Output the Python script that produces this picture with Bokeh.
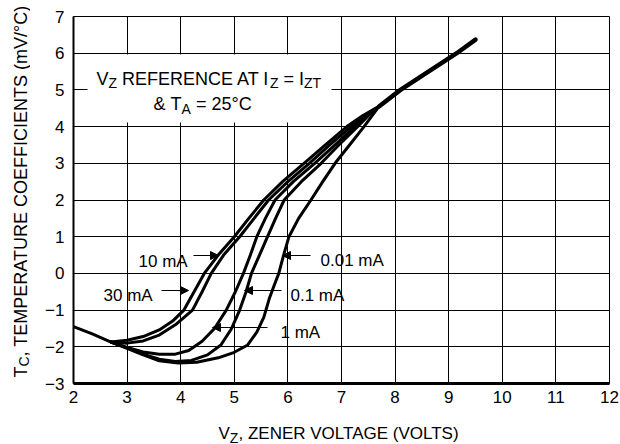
import numpy as np
from bokeh.plotting import figure
from bokeh.layouts import column, row
from bokeh.models import Range1d, FixedTicker, Label, Arrow, NormalHead, BoxAnnotation
from bokeh.core.properties import value
from bokeh.embed import file_html
from bokeh.resources import INLINE

# ---------------- data ----------------
x_ticks = list(range(2, 13))
y_ticks = list(range(-3, 8))
x_tick_labels = [str(v) for v in x_ticks]
y_tick_labels = ["\u22123", "\u22122", "\u22121", "0", "1", "2", "3", "4", "5", "6", "7"]

currents = ["30 mA", "10 mA", "1 mA", "0.1 mA", "0.01 mA"]

# shared start (all currents) and shared end (all currents merge)
common_vz = [2.0, 2.35, 2.7]
common_tc = [-1.45, -1.65, -1.87]
tail_vz = [7.7, 8.1, 9.15, 9.5]
tail_tc = [4.55, 5.0, 6.0, 6.37]

vz_30mA = [2.7, 3.0, 3.3, 3.6, 3.85, 4.06, 4.25, 4.44, 4.7, 5.0, 5.27, 5.55, 5.9, 6.3, 6.7, 7.1, 7.4, 7.7]
tc_30mA = [-1.87, -1.82, -1.72, -1.54, -1.3, -1.0, -0.5, 0.0, 0.5, 1.0, 1.5, 2.0, 2.5, 3.0, 3.5, 4.0, 4.3, 4.55]

vz_10mA = [2.7, 3.0, 3.3, 3.6, 3.9, 4.22, 4.4, 4.57, 4.8, 5.1, 5.37, 5.64, 6.0, 6.4, 6.78, 7.18, 7.45, 7.7]
tc_10mA = [-1.87, -1.9, -1.84, -1.68, -1.4, -1.0, -0.5, 0.0, 0.5, 1.0, 1.5, 2.0, 2.5, 3.0, 3.5, 4.0, 4.3, 4.55]

vz_1mA = [2.7, 3.0, 3.3, 3.6, 3.9, 4.15, 4.4, 4.63, 4.85, 5.02, 5.17, 5.3, 5.42, 5.58, 5.76, 6.1, 6.5, 6.88, 7.25, 7.48, 7.7]
tc_1mA = [-1.87, -2.02, -2.14, -2.2, -2.2, -2.1, -1.85, -1.5, -1.0, -0.5, 0.0, 0.5, 1.0, 1.5, 2.0, 2.5, 3.0, 3.5, 4.0, 4.3, 4.55]

vz_01mA = [2.7, 3.0, 3.3, 3.6, 3.9, 4.2, 4.5, 4.75, 4.95, 5.1, 5.22, 5.32, 5.47, 5.62, 5.77, 5.93, 6.25, 6.62, 6.95, 7.3, 7.5, 7.7]
tc_01mA = [-1.87, -2.03, -2.2, -2.34, -2.4, -2.37, -2.22, -1.95, -1.5, -1.0, -0.5, 0.0, 0.5, 1.0, 1.5, 2.0, 2.5, 3.0, 3.5, 4.0, 4.3, 4.55]

vz_001mA = [2.7, 3.0, 3.3, 3.6, 3.95, 4.3, 4.7, 5.0, 5.25, 5.42, 5.55, 5.65, 5.75, 5.83, 5.92, 6.02, 6.2, 6.43, 6.65, 6.88, 7.15, 7.42, 7.7]
tc_001mA = [-1.87, -2.04, -2.22, -2.38, -2.44, -2.42, -2.3, -2.15, -1.95, -1.6, -1.2, -0.7, -0.3, 0.0, 0.5, 1.0, 1.5, 2.0, 2.5, 3.0, 3.5, 4.0, 4.55]

series_vz = [vz_30mA, vz_10mA, vz_1mA, vz_01mA, vz_001mA]
series_tc = [tc_30mA, tc_10mA, tc_1mA, tc_01mA, tc_001mA]

x_title = ["V", "Z", ", ZENER VOLTAGE (VOLTS)"]
y_title = ["T", "C", ", TEMPERATURE COEFFICIENTS (mV/\u00b0C)"]

# ---------------- layout (page pixels) ----------------
YT_W = 30                 # width of the strip holding the y title
MAIN_W, MAIN_H = 590, 416
XT_H = 444 - MAIN_H       # strip holding the x title
FL, FT, FW, FH = 73, 16, 536, 367   # frame left/top/width/height on the page
NB = "\u00a0"


def dx(px):
    return 2 + (px - FL) * 10.0 / FW


def dy(py):
    return 7 - (py - FT) * 10.0 / FH


FONT = "Liberation Sans"

p = figure(width=MAIN_W, height=MAIN_H, output_backend="svg", toolbar_location=None,
           title=None, x_range=Range1d(2, 12), y_range=Range1d(-3, 7),
           min_border_left=FL - YT_W, min_border_right=MAIN_W - (FL - YT_W) - FW,
           min_border_top=FT, min_border_bottom=MAIN_H - FT - FH)
p.frame_align = False
p.background_fill_color = "white"
p.border_fill_color = "white"
p.outline_line_color = "black"
p.outline_line_width = 1

p.xaxis.ticker = FixedTicker(ticks=x_ticks)
p.yaxis.ticker = FixedTicker(ticks=y_ticks)
p.xaxis.major_label_overrides = {t: l for t, l in zip(x_ticks, x_tick_labels)}
p.yaxis.major_label_overrides = {t: l for t, l in zip(y_ticks, y_tick_labels)}
for ax in (p.xaxis[0], p.yaxis[0]):
    ax.major_tick_in = 0
    ax.major_tick_out = 0
    ax.minor_tick_in = 0
    ax.minor_tick_out = 0
    ax.axis_line_color = "black"
    ax.major_label_text_font = FONT
    ax.major_label_text_font_size = "17px"
    ax.major_label_text_color = "black"
p.xaxis.axis_line_width = 3
p.yaxis.axis_line_width = 2
p.xaxis.major_label_standoff = 7
p.yaxis.major_label_standoff = 9

p.xgrid.ticker = FixedTicker(ticks=x_ticks)
p.ygrid.ticker = FixedTicker(ticks=y_ticks)
for g in (p.xgrid[0], p.ygrid[0]):
    g.grid_line_color = "black"
    g.grid_line_width = 1
    g.grid_line_alpha = 1

# curves
p.line(common_vz, common_tc, line_color="black", line_width=3, line_cap="round", line_join="round")
for vz, tc in zip(series_vz, series_tc):
    p.line(vz, tc, line_color="black", line_width=3, line_cap="round", line_join="round")
p.line(tail_vz, tail_tc, line_color="black", line_width=4.5, line_cap="round", line_join="round")

# white box behind the reference note
p.add_layout(BoxAnnotation(left=dx(87), right=dx(331), top=dy(54), bottom=dy(122),
                           fill_color="white", fill_alpha=1, line_alpha=0))


def label(px, py_mid, text, size=17):
    """Text placed by its left edge and the page y of its cap middle."""
    p.add_layout(Label(x=dx(px), y=dy(py_mid), text=text, text_font=FONT,
                       text_font_size=f"{size}px", text_color="black",
                       text_align="left", text_baseline="middle"))


# reference note
label(96, 78, "V", 18)
label(108, 82.5, "Z", 14)
label(116.5, 78, NB + "REFERENCE AT I", 18)
label(269.5, 82.5, "Z", 14)
label(278, 78, NB + "=" + NB + "I", 18)
label(303.5, 82.5, "ZT", 14)
label(153, 103.5, "&" + NB + "T", 18)
label(181, 108, "A", 14)
label(190.5, 103.5, NB + "=" + NB + "25\u00b0C", 18)

# current labels with arrows: (text left, cap middle, arrow start px, arrow tip px, arrow py)
label_pos = [
    (103, 295, 161, 188, 290),
    (138, 261, 193, 218, 255),
    (280, 331.5, 267, 212, 327),
    (290, 295, 281, 244, 290),
    (320, 260, 310, 282, 255),
]
for name, (tx, ty, ax0, ax1, ay) in zip(currents, label_pos):
    label(tx, ty, name, 17)
    p.add_layout(Arrow(end=NormalHead(size=8, fill_color="black", line_color="black", line_width=1),
                       x_start=dx(ax0), y_start=dy(ay), x_end=dx(ax1), y_end=dy(ay),
                       line_color="black", line_width=1))


def strip(w, h):
    f = figure(width=w, height=h, output_backend="svg", toolbar_location=None, title=None,
               x_range=Range1d(0, w), y_range=Range1d(0, h),
               x_axis_type=None, y_axis_type=None,
               min_border_left=0, min_border_right=0, min_border_top=0, min_border_bottom=0)
    f.frame_align = False
    f.outline_line_color = None
    f.grid.visible = False
    f.background_fill_color = "white"
    f.border_fill_color = "white"
    return f


# y title strip (rotated text, reading upward); x = page x of the cap middle
ys = strip(YT_W, MAIN_H)
ys.text(x=[20.5, 23, 20.5], y=[MAIN_H - 377, MAIN_H - 366, MAIN_H - 355.9], text=y_title,
        text_font=value(FONT), text_font_size=["18px", "14px", "18px"],
        angle=np.pi / 2, text_align="left", text_baseline="middle", text_color="black")

# x title strip; y = page y of the cap middle
xs = strip(YT_W + MAIN_W, XT_H)
xs.text(x=[218, 229.3, 238], y=[444 - 433, 444 - 437, 444 - 433], text=x_title,
        text_font=value(FONT), text_font_size=["17px", "14px", "17px"],
        text_align="left", text_baseline="middle", text_color="black")

layout = column(row(ys, p), xs)
open("out.html", "w").write(file_html(layout, INLINE))
